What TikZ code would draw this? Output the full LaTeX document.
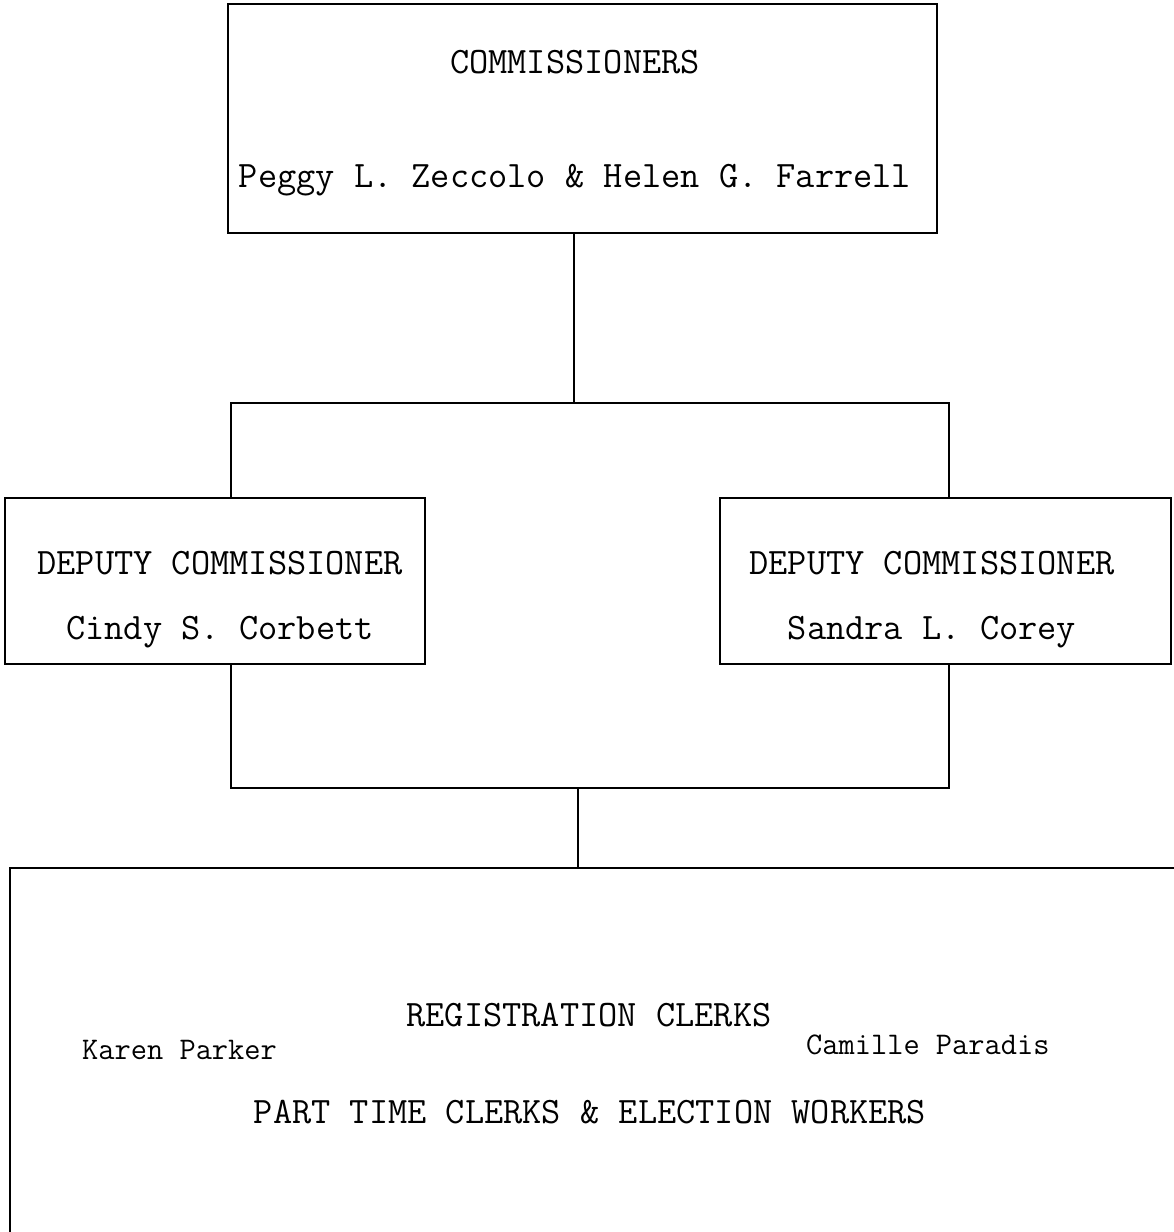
\documentclass[tikz,border=0pt]{standalone}
\usepackage{fontspec}
\begin{document}
\begin{tikzpicture}[x=1pt,y=-1pt,
  box/.style={draw, line width=2pt, inner sep=0pt},
  lbl/.style={font=\ttfamily\fontsize{37.3}{37.3}\selectfont, anchor=base, inner sep=0pt},
  nm/.style={font=\ttfamily\fontsize{31.5}{31.5}\selectfont, anchor=base west, inner sep=0pt},
  link/.style={line width=2pt}]
\clip (0,0) rectangle (1174,1232);
\fill[white] (0,0) rectangle (1174,1232);
% boxes
\node[box, minimum width=709pt, minimum height=229pt] (comm) at (582.5,118.5) {};
\node[box, minimum width=420pt, minimum height=166pt] (dl) at (215,581) {};
\node[box, minimum width=451pt, minimum height=166pt] (dr) at (945.5,581) {};
\node[box, minimum width=1240pt, minimum height=432pt] (rc) at (630,1084) {};
% texts
\node[lbl] (t1) at (575,73) {COMMISSIONERS};
\node[lbl] (t2) at (575,187) {Peggy L. Zeccolo \& Helen G. Farrell};
\node[lbl] (t3) at (220,574) {DEPUTY COMMISSIONER};
\node[lbl] (t4) at (220,639) {Cindy S. Corbett};
\node[lbl] (t5) at (932,574) {DEPUTY COMMISSIONER};
\node[lbl] (t6) at (932,639) {Sandra L. Corey};
\node[lbl] (t7) at (589,1026) {REGISTRATION CLERKS};
\node[nm] (t8) at (82,1059) {Karen Parker};
\node[nm] (t9) at (806,1054) {Camille Paradis};
\node[lbl] (t10) at (590,1123) {PART TIME CLERKS \& ELECTION WORKERS};
% connectors
\coordinate (j1) at (574,403);
\coordinate (j2) at (578,788);
\coordinate (xl) at (231,0);
\coordinate (xr) at (949,0);
\draw[link] (comm.south -| j1) -- (j1);
\draw[link] (j1) -| (dl.north -| xl);
\draw[link] (j1) -| (dr.north -| xr);
\draw[link] (dl.south -| xl) |- (j2) -| (dr.south -| xr);
\draw[link] (j2) -- (rc.north -| j2);
\end{tikzpicture}
\end{document}
